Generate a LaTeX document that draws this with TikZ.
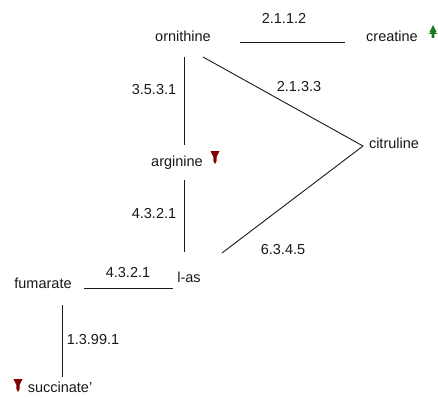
\documentclass[tikz,border=0pt]{standalone}
\usepackage{fontspec}
\setmainfont{Liberation Sans}
\usetikzlibrary{calc}
\definecolor{upgreen}{RGB}{30,120,30}
\definecolor{downred}{RGB}{130,0,0}
\tikzset{
  metab/.style={anchor=base, inner sep=0pt, font=\fontsize{14.5}{16}\selectfont, text=black!90},
  enzyme/.style={anchor=base, inner sep=0pt, font=\fontsize{14.5}{16}\selectfont, text=black!90},
  link/.style={draw=black!90, line width=0.9pt},
  upmark/.pic={\fill[upgreen] (-4.5,-4) -- (-2,-6) -- (-3.5,-6) -- (0,-13) -- (3.5,-6) -- (2,-6) -- (4.5,-4) -- (1.4,-4) -- (1.4,0) -- (-1.4,0) -- (-1.4,-4) -- cycle;},
  downmark/.pic={\fill[downred] (-4.5,-13) -- (4.5,-13) -- (1.6,-7) -- (1.6,-3) -- (0,0) -- (-1.6,-3) -- (-1.6,-7) -- cycle;}
}
\begin{document}
\begin{tikzpicture}[x=1pt, y=-1pt]
  \useasboundingbox (0,0) rectangle (438,398);
  \fill[white] (0,0) rectangle (438,398);

  % metabolites
  \node[metab] (orn)  at (183,42)  {ornithine};
  \node[metab] (cre)  at (392,42)  {creatine};
  \node[metab] (cit)  at (394,148) {citruline};
  \node[metab] (arg)  at (177,166) {arginine};
  \node[metab] (las)  at (189,282) {l-as};
  \node[metab] (fum)  at (43,288)  {fumarate};
  \node[metab] (suc)  at (60,392)  {succinate\symbol{39}};

  % regulation marks
  \pic at (433,38)  {upmark};
  \pic at (215,164) {downmark};
  \pic at (18,392)  {downmark};

  % reactions
  \draw[link] ($(orn.base)+(57,0)$)   -- ($(cre.base)+(-47,0)$);
  \draw[link] ($(orn.base)+(1,15)$)   -- ($(arg.base)+(7,-21)$);
  \draw[link] ($(orn.base)+(20,15)$)  -- ($(cit.base)+(-31,-2)$);
  \draw[link] ($(arg.base)+(7,14)$)   -- ($(las.base)+(-5,-30)$);
  \draw[link] ($(cit.base)+(-31,-2)$) -- ($(las.base)+(33,-29)$);
  \draw[link] ($(fum.base)+(41,0)$)   -- ($(las.base)+(-16,6)$);
  \draw[link] ($(fum.base)+(19,17)$)  -- ($(suc.base)+(2,-15)$);

  % enzyme labels
  \node[enzyme] (e1) at (284,24)  {2.1.1.2};
  \node[enzyme] (e2) at (154,95)  {3.5.3.1};
  \node[enzyme] (e3) at (299,92)  {2.1.3.3};
  \node[enzyme] (e4) at (154,218) {4.3.2.1};
  \node[enzyme] (e5) at (283,254) {6.3.4.5};
  \node[enzyme] (e6) at (128,277) {4.3.2.1};
  \node[enzyme] (e7) at (93,344)  {1.3.99.1};
\end{tikzpicture}
\end{document}
